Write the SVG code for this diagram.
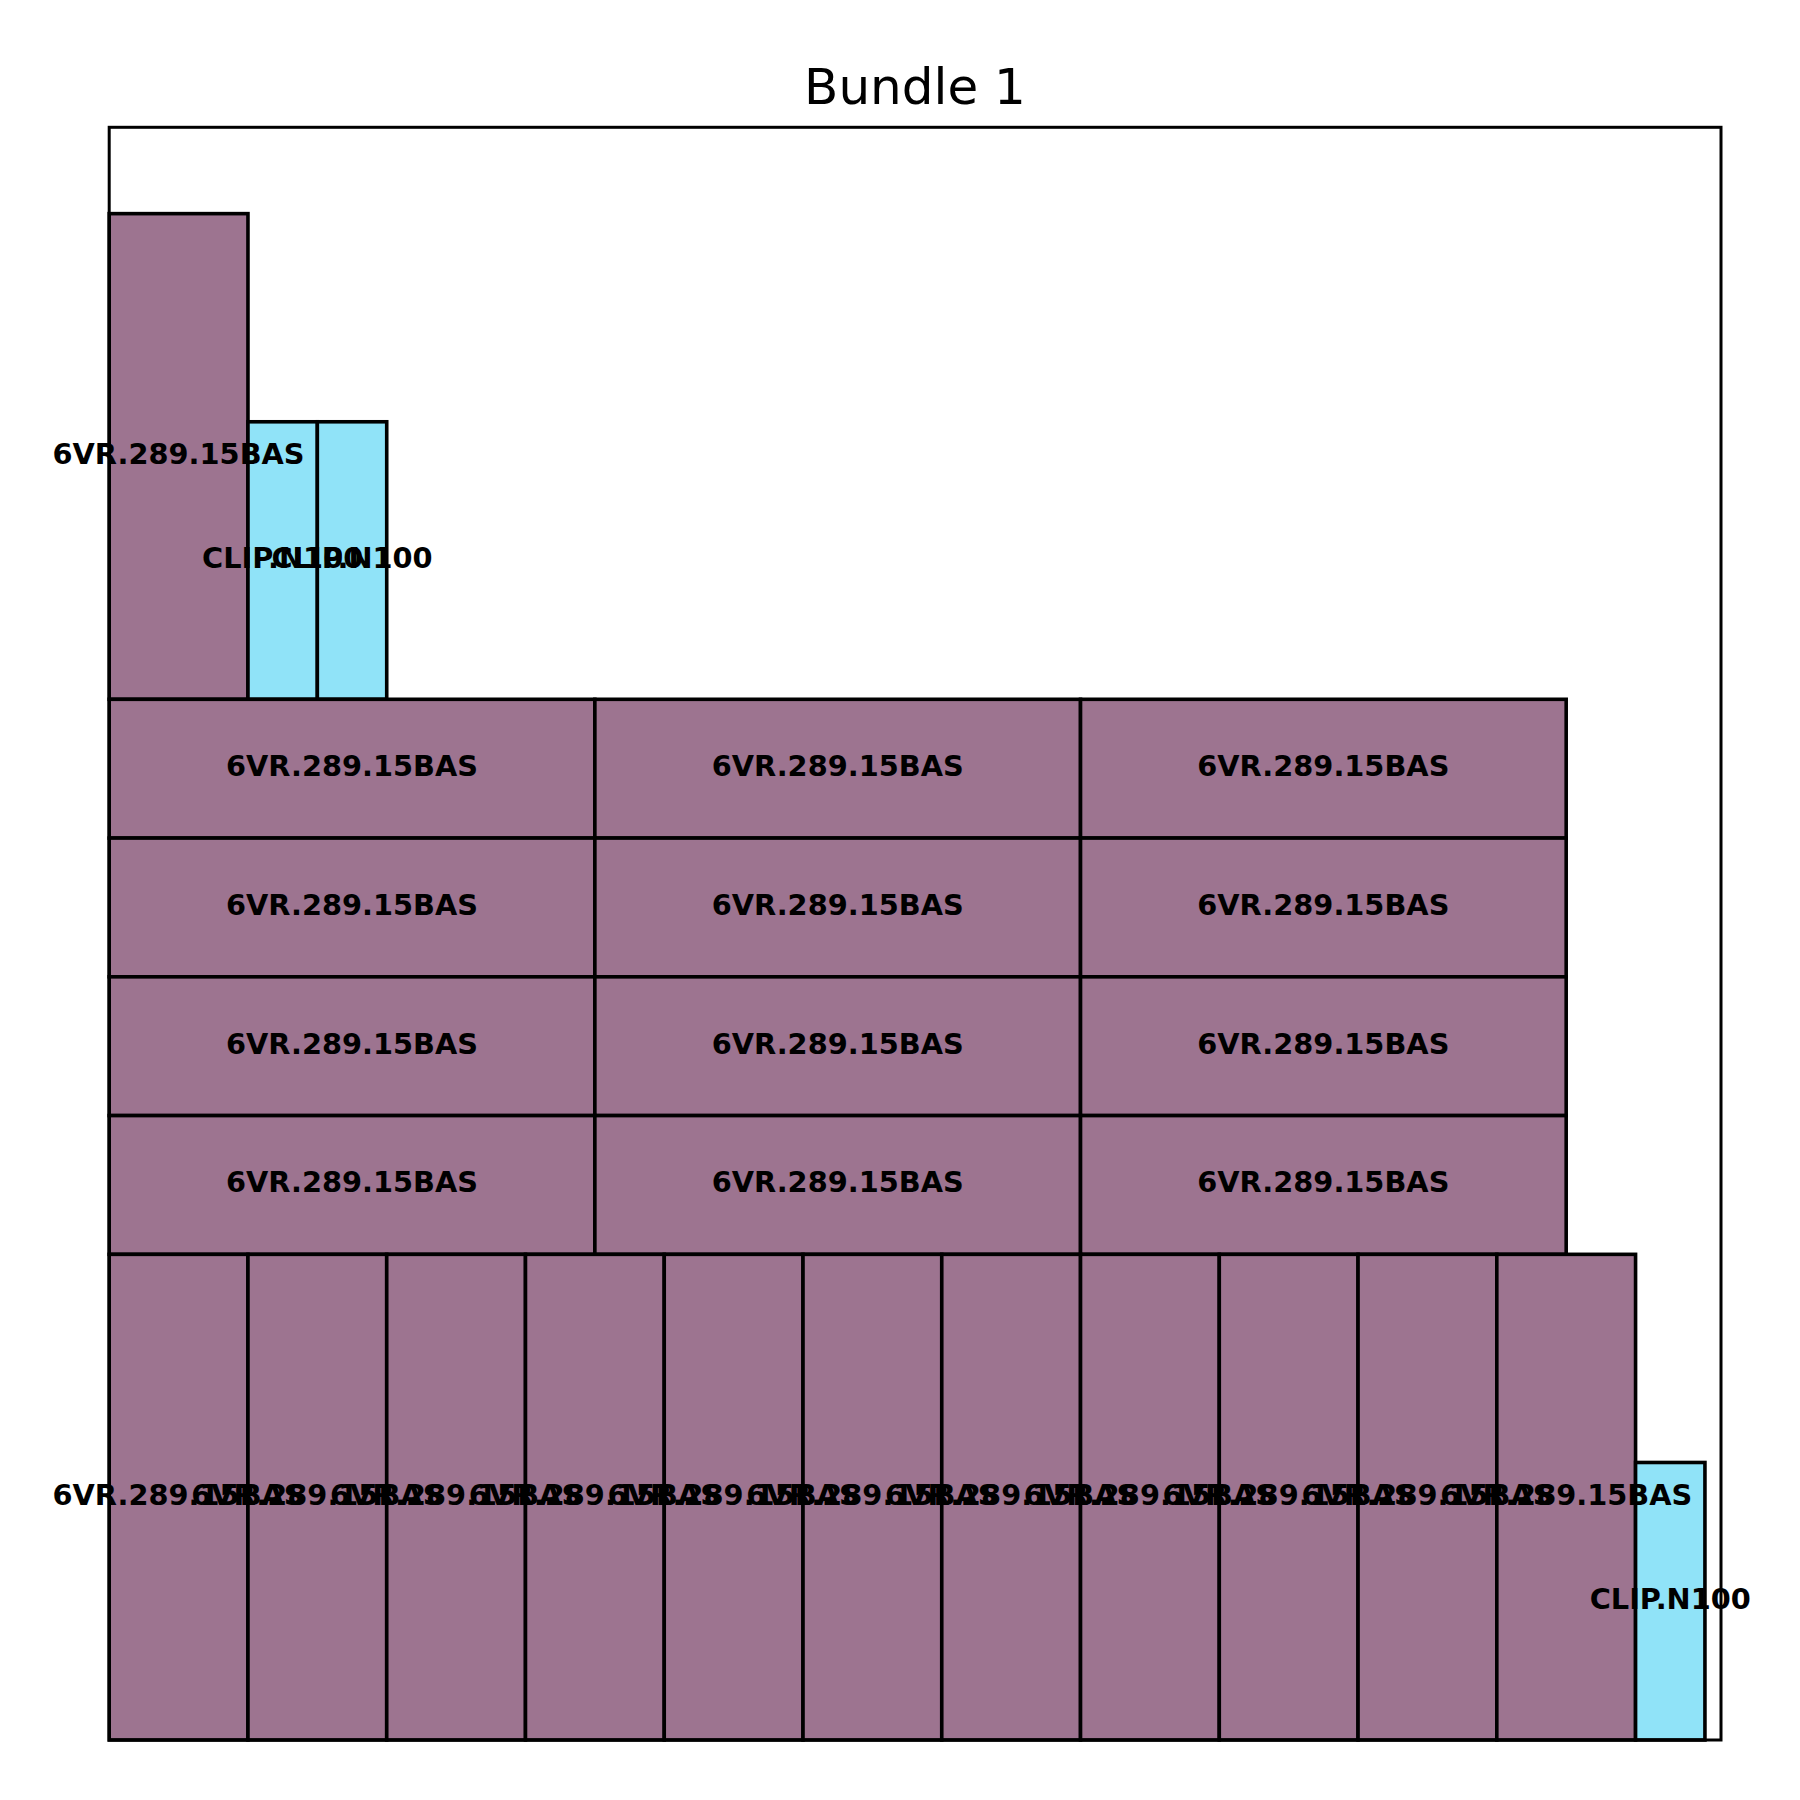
<svg xmlns="http://www.w3.org/2000/svg" width="1800" height="1800" viewBox="0 0 1800 1800">
<style>
.p{fill:#9d7490;stroke:#000;stroke-width:3.6}
.c{fill:#90e3f8;stroke:#000;stroke-width:3.6}
.t{font-family:"DejaVu Sans",sans-serif;font-weight:bold;font-size:28.8px;text-anchor:middle;fill:#000}
.title{font-family:"DejaVu Sans",sans-serif;font-size:50px;text-anchor:middle;fill:#000}
</style>
<rect width="1800" height="1800" fill="#fff"/>
<text class="title" x="915" y="103.5">Bundle 1</text>
<g id="connectors"/>
<g id="shapes">
<g id="n-top-tall"><rect class="p" x="109.2" y="213.64" width="138.76" height="485.66"/></g>
<g id="n-top-clip1"><rect class="c" x="247.96" y="421.78" width="69.38" height="277.52"/></g>
<g id="n-top-clip2"><rect class="c" x="317.34" y="421.78" width="69.38" height="277.52"/></g>
<g id="n-r1c1"><rect class="p" x="109.2" y="699.3" width="485.66" height="138.76"/></g>
<g id="n-r1c2"><rect class="p" x="594.86" y="699.3" width="485.66" height="138.76"/></g>
<g id="n-r1c3"><rect class="p" x="1080.52" y="699.3" width="485.66" height="138.76"/></g>
<g id="n-r2c1"><rect class="p" x="109.2" y="838.06" width="485.66" height="138.76"/></g>
<g id="n-r2c2"><rect class="p" x="594.86" y="838.06" width="485.66" height="138.76"/></g>
<g id="n-r2c3"><rect class="p" x="1080.52" y="838.06" width="485.66" height="138.76"/></g>
<g id="n-r3c1"><rect class="p" x="109.2" y="976.82" width="485.66" height="138.76"/></g>
<g id="n-r3c2"><rect class="p" x="594.86" y="976.82" width="485.66" height="138.76"/></g>
<g id="n-r3c3"><rect class="p" x="1080.52" y="976.82" width="485.66" height="138.76"/></g>
<g id="n-r4c1"><rect class="p" x="109.2" y="1115.58" width="485.66" height="138.76"/></g>
<g id="n-r4c2"><rect class="p" x="594.86" y="1115.58" width="485.66" height="138.76"/></g>
<g id="n-r4c3"><rect class="p" x="1080.52" y="1115.58" width="485.66" height="138.76"/></g>
<g id="n-b0"><rect class="p" x="109.2" y="1254.34" width="138.76" height="485.66"/></g>
<g id="n-b1"><rect class="p" x="247.96" y="1254.34" width="138.76" height="485.66"/></g>
<g id="n-b2"><rect class="p" x="386.72" y="1254.34" width="138.76" height="485.66"/></g>
<g id="n-b3"><rect class="p" x="525.48" y="1254.34" width="138.76" height="485.66"/></g>
<g id="n-b4"><rect class="p" x="664.24" y="1254.34" width="138.76" height="485.66"/></g>
<g id="n-b5"><rect class="p" x="803.0" y="1254.34" width="138.76" height="485.66"/></g>
<g id="n-b6"><rect class="p" x="941.76" y="1254.34" width="138.76" height="485.66"/></g>
<g id="n-b7"><rect class="p" x="1080.52" y="1254.34" width="138.76" height="485.66"/></g>
<g id="n-b8"><rect class="p" x="1219.28" y="1254.34" width="138.76" height="485.66"/></g>
<g id="n-b9"><rect class="p" x="1358.04" y="1254.34" width="138.76" height="485.66"/></g>
<g id="n-b10"><rect class="p" x="1496.8" y="1254.34" width="138.76" height="485.66"/></g>
<g id="n-bclip"><rect class="c" x="1635.56" y="1462.48" width="69.38" height="277.52"/></g>
</g>
<rect id="frame" x="109.2" y="127.3" width="1611.8" height="1612.7" fill="none" stroke="#000" stroke-width="3"/>
<g id="labels">
<text class="t" x="178.58" y="463.5">6VR.289.15BAS</text>
<text class="t" x="282.65" y="567.8">CLIP.N100</text>
<text class="t" x="352.03" y="567.8">CLIP.N100</text>
<text class="t" x="352.03" y="776">6VR.289.15BAS</text>
<text class="t" x="837.69" y="776">6VR.289.15BAS</text>
<text class="t" x="1323.35" y="776">6VR.289.15BAS</text>
<text class="t" x="352.03" y="914.7">6VR.289.15BAS</text>
<text class="t" x="837.69" y="914.7">6VR.289.15BAS</text>
<text class="t" x="1323.35" y="914.7">6VR.289.15BAS</text>
<text class="t" x="352.03" y="1053.5">6VR.289.15BAS</text>
<text class="t" x="837.69" y="1053.5">6VR.289.15BAS</text>
<text class="t" x="1323.35" y="1053.5">6VR.289.15BAS</text>
<text class="t" x="352.03" y="1192.3">6VR.289.15BAS</text>
<text class="t" x="837.69" y="1192.3">6VR.289.15BAS</text>
<text class="t" x="1323.35" y="1192.3">6VR.289.15BAS</text>
<text class="t" x="178.58" y="1504.5">6VR.289.15BAS</text>
<text class="t" x="317.34" y="1504.5">6VR.289.15BAS</text>
<text class="t" x="456.1" y="1504.5">6VR.289.15BAS</text>
<text class="t" x="594.86" y="1504.5">6VR.289.15BAS</text>
<text class="t" x="733.62" y="1504.5">6VR.289.15BAS</text>
<text class="t" x="872.38" y="1504.5">6VR.289.15BAS</text>
<text class="t" x="1011.14" y="1504.5">6VR.289.15BAS</text>
<text class="t" x="1149.9" y="1504.5">6VR.289.15BAS</text>
<text class="t" x="1288.66" y="1504.5">6VR.289.15BAS</text>
<text class="t" x="1427.42" y="1504.5">6VR.289.15BAS</text>
<text class="t" x="1566.18" y="1504.5">6VR.289.15BAS</text>
<text class="t" x="1670.25" y="1608.5">CLIP.N100</text>
</g>
</svg>
